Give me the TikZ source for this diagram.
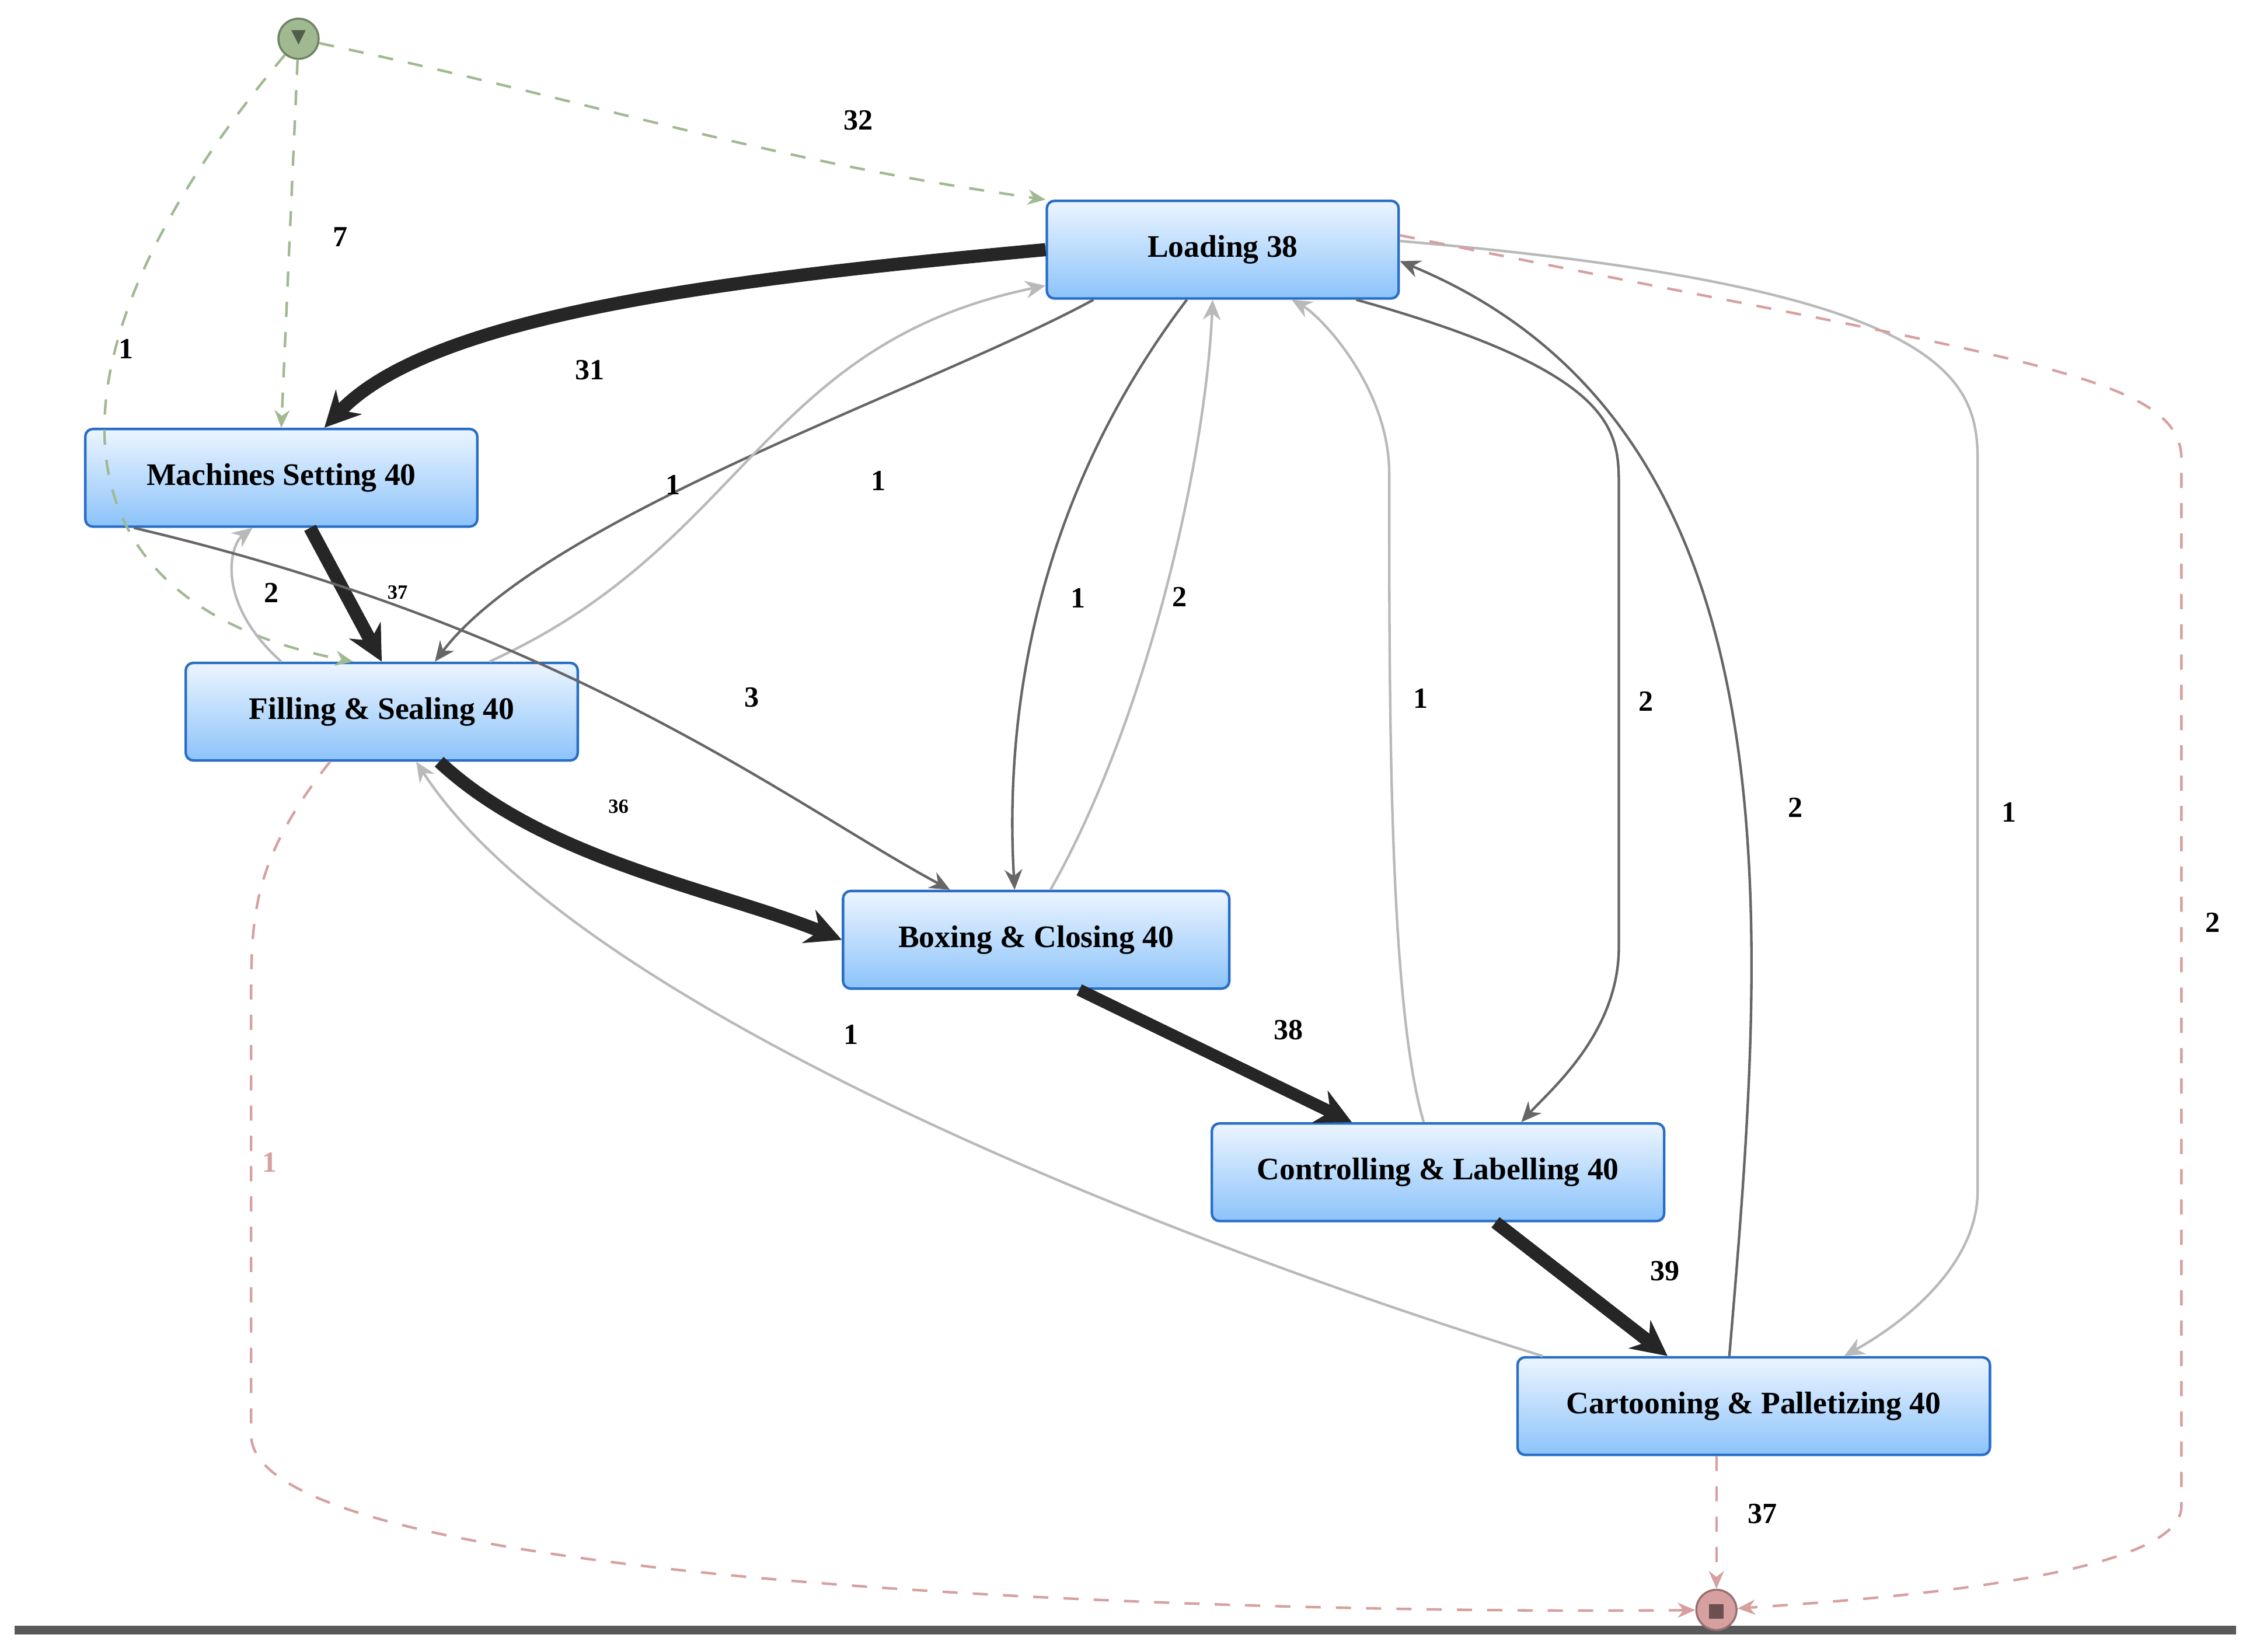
\documentclass[tikz,border=0pt]{standalone}
\usepackage{fontspec}
\setmainfont{Liberation Serif}
\usetikzlibrary{arrows.meta}
\definecolor{boxtop}{RGB}{236,245,255}
\definecolor{boxbot}{RGB}{140,195,250}
\definecolor{boxline}{RGB}{40,110,200}
\definecolor{startc}{RGB}{160,185,145}
\definecolor{endc}{RGB}{215,160,160}
\tikzset{
	act/.style={draw=boxline, line width=0.5pt, rounded corners=1.5pt, top color=boxtop, bottom color=boxbot, minimum height=0.68cm, font=\fontsize{6.2}{7}\selectfont\bfseries},
	flow/.style={-{Stealth[length=4pt,width=3.5pt]}, line width=0.5pt, draw=gray!80!black},
	light/.style={flow, draw=gray!55},
	heavy/.style={-{Stealth[length=7pt,width=7pt]}, draw=black!85, line width=#1},
	sdash/.style={-{Stealth[length=3.5pt,width=3pt]}, dashed, draw=startc, line width=0.5pt},
	edash/.style={-{Stealth[length=3.5pt,width=3pt]}, dashed, draw=endc, line width=0.5pt},
	lbl/.style={font=\fontsize{5.8}{7}\selectfont\bfseries},
	small/.style={font=\fontsize{4}{5}\selectfont\bfseries}
}
\begin{document}
\begin{tikzpicture}[x=0.01cm,y=-0.01cm]
	\useasboundingbox (0,0) rectangle (1565,1151);
	\fill[gray!70!black] (10,1133) rectangle (1558,1139);
	% start and end
	\node[circle, draw=startc!70!black, fill=startc, minimum size=0.28cm, inner sep=0] (start) at (208,27) {};
	\fill[startc!50!black] (203,21) -- (213,21) -- (208,31) -- cycle;
	\node[circle, draw=endc!70!black, fill=endc, minimum size=0.28cm, inner sep=0] (end) at (1196,1122) {};
	\fill[endc!50!black] (1191,1118) rectangle (1201,1128);
	% activities
	\node[act, minimum width=2.45cm] (load) at (852,174) {Loading 38};
	\node[act, minimum width=2.73cm] (mach) at (196,333) {Machines Setting 40};
	\node[act, minimum width=2.73cm] (fill) at (266,496) {Filling \& Sealing 40};
	\node[act, minimum width=2.69cm] (box) at (722,655) {Boxing \& Closing 40};
	\node[act, minimum width=3.15cm] (ctrl) at (1002,817) {Controlling \& Labelling 40};
	\node[act, minimum width=3.29cm] (cart) at (1222,980) {Cartooning \& Palletizing 40};
	% start edges
	\draw[sdash] (start) to[out=-12,in=172] (load.north west);
	\draw[sdash] (start) -- (mach.north);
	\draw[sdash] (start) .. controls (20,250) and (30,420) .. ([xshift=-0.2cm]fill.north);
	% heavy flow
	\draw[heavy=2.6pt] (load.west) .. controls (500,195) and (300,220) .. ([xshift=0.3cm]mach.north);
	\draw[heavy=2.6pt] ([xshift=0.2cm]mach.south) -- (fill.north);
	\draw[heavy=2.6pt] ([xshift=0.4cm]fill.south) .. controls (380,600) and (500,620) .. (box.west);
	\draw[heavy=2.4pt] ([xshift=0.3cm]box.south) -- ([xshift=-0.6cm]ctrl.north);
	\draw[heavy=2.6pt] ([xshift=0.4cm]ctrl.south) -- ([xshift=-0.6cm]cart.north);
	% thin flow
	\draw[light] ([xshift=-0.7cm]fill.north) .. controls (150,420) and (160,380) .. ([xshift=-0.2cm]mach.south);
	\draw[flow] ([xshift=-0.9cm]load.south) .. controls (650,270) and (380,360) .. ([xshift=0.37cm]fill.north);
	\draw[light] ([xshift=0.75cm]fill.north) .. controls (520,380) and (530,240) .. ([yshift=-0.25cm]load.west);
	\draw[flow] ([xshift=-2.4cm]mach.east |- mach.south) .. controls (400,440) and (550,560) .. ([xshift=-0.6cm]box.north);
	\draw[flow] ([xshift=-0.25cm]load.south) .. controls (720,350) and (700,500) .. ([xshift=-0.15cm]box.north);
	\draw[light] ([xshift=0.1cm]box.north) .. controls (800,500) and (840,320) .. ([xshift=-0.07cm]load.south);
	\draw[light] ([xshift=-0.1cm]ctrl.north) .. controls (968,700) and (968,500) .. (968,330) .. controls (968,270) and (920,220) .. ([xshift=0.48cm]load.south);
	\draw[flow] ([xshift=0.93cm]load.south) .. controls (1128,260) and (1128,300) .. (1128,340) -- (1128,660) .. controls (1128,720) and (1080,760) .. ([xshift=0.58cm]ctrl.north);
	\draw[flow] ([xshift=-0.17cm]cart.north) .. controls (1230,650) and (1260,300) .. ([yshift=-0.08cm]load.east);
	\draw[light] ([yshift=0.06cm]load.east) .. controls (1350,200) and (1378,260) .. (1378,320) -- (1378,830) .. controls (1378,880) and (1330,920) .. ([xshift=0.63cm]cart.north);
	\draw[light] ([xshift=-1.47cm]cart.north) .. controls (800,860) and (400,700) .. ([xshift=0.24cm]fill.south);
	% end edges
	\draw[edash] ([xshift=-0.36cm]fill.south) .. controls (175,600) and (175,640) .. (175,700) -- (175,1000) .. controls (175,1110) and (900,1125) .. (end);
	\draw[edash] (cart.south -| end) -- (end);
	\draw[edash] ([yshift=0.1cm]load.east) .. controls (1400,250) and (1520,260) .. (1520,320) -- (1520,1050) .. controls (1520,1100) and (1300,1115) .. (end);
	% labels
	\node[lbl] (l32) at (598,84) {32};
	\node[lbl] (l7) at (237,165) {7};
	\node[lbl] (l1s) at (88,243) {1};
	\node[lbl] (l31) at (411,258) {31};
	\node[small] (l37a) at (277,413) {37};
	\node[lbl] (l2a) at (189,413) {2};
	\node[lbl] (l1a) at (469,338) {1};
	\node[lbl] (l1b) at (612,335) {1};
	\node[lbl] (l3) at (524,486) {3};
	\node[small] (l36) at (431,562) {36};
	\node[lbl] (l1c) at (751,417) {1};
	\node[lbl] (l2b) at (822,416) {2};
	\node[lbl] (l1d) at (990,487) {1};
	\node[lbl] (l2c) at (1147,489) {2};
	\node[lbl] (l2d) at (1251,563) {2};
	\node[lbl] (l1e) at (1400,566) {1};
	\node[lbl] (l2e) at (1542,643) {2};
	\node[lbl] (l38) at (898,718) {38};
	\node[lbl] (l1f) at (593,721) {1};
	\node[lbl] (l39) at (1160,886) {39};
	\node[lbl, text=endc] (l1g) at (188,810) {1};
	\node[lbl] (l37b) at (1228,1055) {37};
\end{tikzpicture}
\end{document}
